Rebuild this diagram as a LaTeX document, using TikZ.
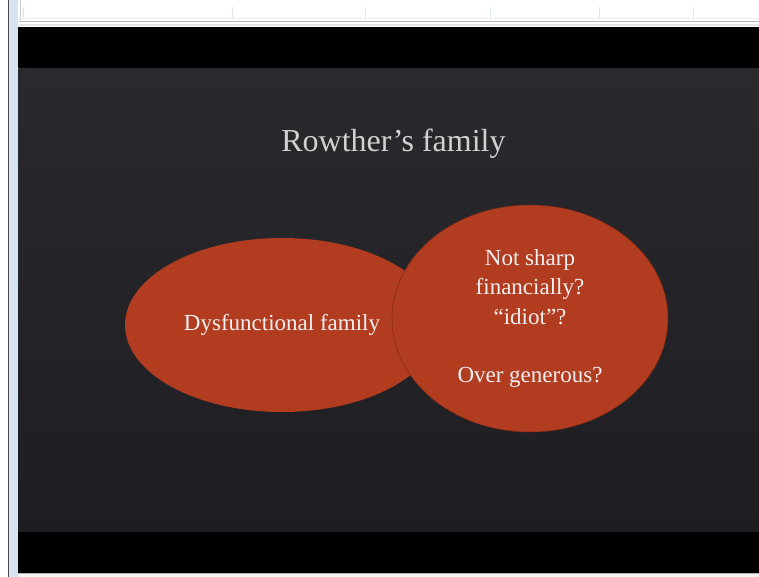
\documentclass[tikz,border=0pt]{standalone}
\usepackage{fontspec}
\setmainfont{Liberation Serif}
\usepackage{tikz}
\usetikzlibrary{shapes.geometric}

\definecolor{slidered}{RGB}{178,60,32}
\definecolor{slidetop}{RGB}{42,41,46}
\definecolor{slidebot}{RGB}{30,29,33}
\definecolor{sidebar}{RGB}{214,228,242}
\definecolor{gridline}{RGB}{222,232,245}

\tikzset{
	blob/.style={ellipse,fill=slidered,text=white!94!black,inner sep=0pt,
		font=\fontsize{23}{29.5}\selectfont,align=center},
}

\begin{document}
\begin{tikzpicture}[x=1pt,y=-1pt]
	\useasboundingbox (0,0) rectangle (759,577);
	% window frame
	\fill[white] (0,0) rectangle (759,577);
	\fill[sidebar] (9,0) rectangle (18.3,577);
	\draw[gray!60!black,line width=1pt] (8.5,0) -- (8.5,577);
	\draw[gray!40,line width=1pt] (20.5,0) -- (20.5,22);
	\draw[gray!25,line width=1pt] (23.5,7) -- (23.5,19);
	\foreach \gx in {232,365,490,599,693}
		\draw[gridline,line width=0.8pt] (\gx,7) -- (\gx,18);
	\draw[gray!15,line width=1pt] (19,18.5) -- (759,18.5);
	\draw[gray!55,line width=1.6pt] (19,21.5) -- (759,21.5);
	\draw[gray!20,line width=1.6pt] (19,25) -- (759,25);
	\fill[gray!8] (18.3,573.5) rectangle (759,577);
	% slide
	\fill[black] (18.3,27.3) rectangle (759,68.3);
	\shade[top color=slidetop,bottom color=slidebot] (18.3,68.3) rectangle (759,532.3);
	\fill[black] (18.3,532.3) rectangle (759,573.3);
	\draw[gray!60,line width=0.6pt] (18.3,573.6) -- (759,573.6);
	\node[anchor=base,text=white!82!black,font=\fontsize{32}{38}\selectfont]
		(title) at (393.5,152) {Rowther’s family};
	\node[blob,minimum width=314pt,minimum height=174pt] (dysf) at (282,325)
		{\raisebox{-3pt}{Dysfunctional family}};
	\node[blob,draw=slidered!70!black,line width=0.5pt,
		minimum width=276pt,minimum height=227pt] (traits) at (530,318.5)
		{Not sharp\\financially?\\“idiot”?\\[28.5pt]Over generous?};
\end{tikzpicture}
\end{document}
